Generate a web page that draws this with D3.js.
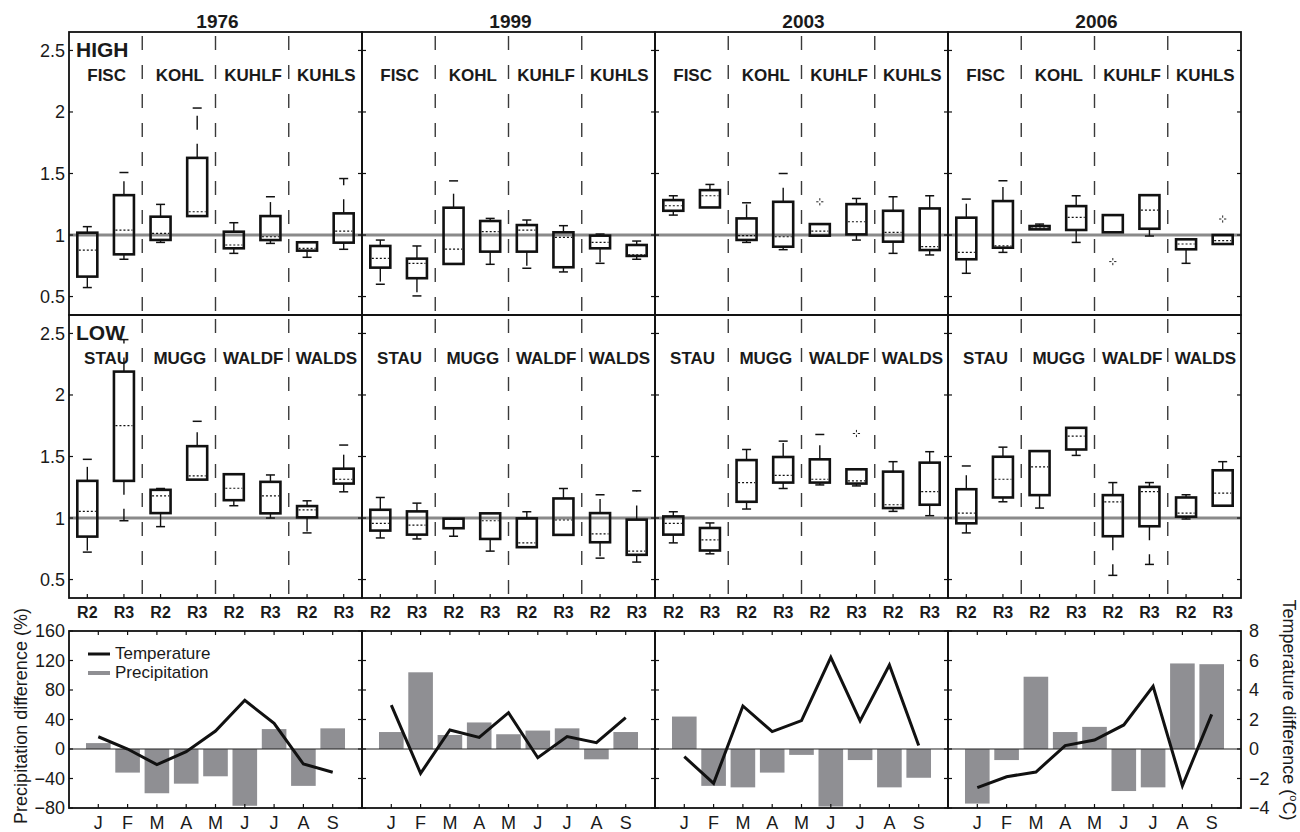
<!DOCTYPE html>
<html>
<head>
<meta charset="utf-8">
<script src="https://cdn.jsdelivr.net/npm/d3@7"></script>
<style>
  html, body { margin: 0; padding: 0; background: #fff; }
  svg { display: block; }
  text { font-family: "Liberation Sans", Arial, Helvetica, sans-serif; fill: #1a1a1a; }
</style>
</head>
<body>
<svg id="chart" width="1300" height="832"></svg>
<script>
// ---- categories ----
const years = ["1976", "1999", "2003", "2006"];
const highSites = ["FISC", "KOHL", "KUHLF", "KUHLS"];
const lowSites = ["STAU", "MUGG", "WALDF", "WALDS"];
const runs = ["R2", "R3"];
const months = ["J", "F", "M", "A", "M", "J", "J", "A", "S"];

// ---- tick labels ----
const ratioTicks = [0.5, 1, 1.5, 2, 2.5];
const precipTicks = [-80, -40, 0, 40, 80, 120, 160];
const tempTicks = [-4, -2, 0, 2, 4, 6, 8];

// ---- box statistics: [lower whisker, q1, median, q3, upper whisker], order site R2, site R3 ----
const high1976 = [
  [0.573, 0.662, 0.878, 1.019, 1.068], [0.803, 0.843, 1.040, 1.324, 1.508],
  [0.940, 0.960, 1.014, 1.149, 1.249], [1.154, 1.154, 1.189, 1.627, 2.032],
  [0.851, 0.892, 0.919, 1.027, 1.100], [0.932, 0.959, 0.986, 1.154, 1.311],
  [0.819, 0.873, 0.892, 0.941, 0.941], [0.884, 0.938, 1.032, 1.176, 1.459]
];
const high1999 = [
  [0.600, 0.735, 0.811, 0.911, 0.959], [0.505, 0.649, 0.770, 0.808, 0.911],
  [0.765, 0.765, 0.886, 1.222, 1.440], [0.762, 0.865, 1.027, 1.114, 1.135],
  [0.730, 0.865, 1.040, 1.081, 1.122], [0.700, 0.738, 0.981, 1.022, 1.076],
  [0.770, 0.892, 0.941, 0.995, 1.008], [0.803, 0.830, 0.838, 0.919, 0.951]
];
const high2003 = [
  [1.162, 1.197, 1.238, 1.284, 1.319], [1.224, 1.224, 1.319, 1.365, 1.411],
  [0.940, 0.960, 0.995, 1.135, 1.262], [0.881, 0.905, 0.986, 1.270, 1.500],
  [0.995, 0.995, 1.032, 1.089, 1.089], [0.959, 1.005, 1.108, 1.251, 1.297],
  [0.851, 0.946, 1.022, 1.197, 1.311], [0.838, 0.878, 0.905, 1.216, 1.319]
];
const high2006 = [
  [0.689, 0.803, 0.859, 1.141, 1.292], [0.859, 0.897, 0.911, 1.276, 1.441],
  [1.046, 1.046, 1.057, 1.073, 1.089], [0.940, 1.041, 1.143, 1.235, 1.319],
  [1.022, 1.022, 1.162, 1.162, 1.162], [0.992, 1.051, 1.203, 1.324, 1.324],
  [0.770, 0.884, 0.927, 0.965, 0.965], [0.927, 0.927, 0.954, 1.000, 1.000]
];
const low1976 = [
  [0.723, 0.849, 1.054, 1.302, 1.477], [0.978, 1.302, 1.751, 2.190, 2.450],
  [0.930, 1.040, 1.180, 1.229, 1.240], [1.312, 1.312, 1.342, 1.584, 1.786],
  [1.100, 1.145, 1.242, 1.356, 1.356], [1.000, 1.038, 1.180, 1.294, 1.350],
  [0.879, 1.005, 1.067, 1.097, 1.140], [1.213, 1.280, 1.315, 1.401, 1.593]
];
const low1999 = [
  [0.838, 0.898, 0.957, 1.067, 1.167], [0.830, 0.865, 0.943, 1.054, 1.121],
  [0.852, 0.917, 0.992, 0.995, 0.995], [0.731, 0.830, 0.978, 1.038, 1.038],
  [0.763, 0.763, 0.798, 0.997, 1.051], [0.863, 0.863, 0.984, 1.159, 1.240],
  [0.674, 0.803, 0.871, 1.040, 1.189], [0.642, 0.701, 0.731, 0.987, 1.221]
];
const low2003 = [
  [0.798, 0.865, 0.957, 1.013, 1.051], [0.709, 0.736, 0.822, 0.919, 0.960],
  [1.073, 1.132, 1.288, 1.471, 1.557], [1.240, 1.288, 1.347, 1.496, 1.625],
  [1.269, 1.288, 1.315, 1.477, 1.679], [1.261, 1.280, 1.302, 1.396, 1.396],
  [1.054, 1.081, 1.108, 1.377, 1.458], [1.019, 1.108, 1.215, 1.450, 1.539]
];
const low2006 = [
  [0.879, 0.957, 1.040, 1.234, 1.423], [1.132, 1.167, 1.315, 1.498, 1.576],
  [1.081, 1.186, 1.415, 1.544, 1.544], [1.509, 1.557, 1.665, 1.733, 1.733],
  [0.534, 0.852, 1.132, 1.186, 1.288], [0.623, 0.933, 1.215, 1.253, 1.288],
  [0.992, 1.011, 1.040, 1.167, 1.189], [1.100, 1.100, 1.202, 1.388, 1.458]
];
// outliers: [year index, box index, value]
const highOutliers = [[2, 4, 1.27], [3, 4, 0.784], [3, 7, 1.13]];
const lowOutliers = [[2, 5, 1.687]];

// ---- monthly differences ----
const precip1976 = [8, -32, -60, -47, -37, -77, 27, -50, 28];
const precip1999 = [23, 104, 19, 36, 20, 25, 28, -14, 23];
const precip2003 = [44, -50, -52, -32, -8, -78, -15, -52, -39];
const precip2006 = [-74, -15, 98, 23, 30, -57, -52, 116, 115];
const temp1976 = [0.83, 0.0, -1.06, -0.18, 1.22, 3.30, 1.74, -1.02, -1.58];
const temp1999 = [2.98, -1.65, 1.29, 0.79, 2.46, -0.59, 0.84, 0.43, 2.12];
const temp2003 = [-0.52, -2.33, 2.92, 1.18, 1.92, 6.21, 1.90, 5.69, 0.23];
const temp2006 = [-2.62, -1.88, -1.56, 0.23, 0.61, 1.63, 4.25, -2.49, 2.35];

const highRows = [high1976, high1999, high2003, high2006];
const lowRows = [low1976, low1999, low2003, low2006];
const precipRows = [precip1976, precip1999, precip2003, precip2006];
const tempRows = [temp1976, temp1999, temp2003, temp2006];

// ---- layout ----
const svg = d3.select("#chart");
const colLeft = 69, colW = 293;
const highTop = 32, highBot = 315, lowTop = 315, lowBot = 598;
const barTop = 631, barBot = 808;
const boxW = 20, capW = 9, tickLen = 4;
const barGray = "#8f8f93";

const yHigh = d3.scaleLinear().domain([0.35, 2.65]).range([highBot, highTop]);
const yLow = d3.scaleLinear().domain([0.35, 2.65]).range([lowBot, lowTop]);
const yPrecip = d3.scaleLinear().domain([-80, 160]).range([barBot, barTop]);
const yTemp = d3.scaleLinear().domain([-4, 8]).range([barBot, barTop]);

function drawBoxPanel(g, stats, outliers, x, y, top, bot, sites, showXTicks) {
  const x0 = x.range()[0], x1 = x.range()[1];
  // site separators
  [2.5, 4.5, 6.5].forEach(v => {
    g.append("line").attr("x1", x(v)).attr("x2", x(v)).attr("y1", top + 4).attr("y2", bot)
      .attr("stroke", "#3a3a3a").attr("stroke-width", 1.4).attr("stroke-dasharray", "14,15");
  });
  // reference ratio of one
  g.append("line").attr("x1", x0).attr("x2", x1).attr("y1", y(1)).attr("y2", y(1))
    .attr("stroke", "#8a8a8a").attr("stroke-width", 3);
  // boxes
  stats.forEach((s, i) => {
    const cx = x(i + 1);
    const [wl, q1, med, q3, wh] = s;
    const bg = g.append("g");
    if (wh > q3) {
      bg.append("line").attr("x1", cx).attr("x2", cx).attr("y1", y(q3)).attr("y2", y(wh))
        .attr("stroke", "#111").attr("stroke-width", 1.4).attr("stroke-dasharray", "14,14");
      bg.append("line").attr("x1", cx - capW / 2).attr("x2", cx + capW / 2).attr("y1", y(wh)).attr("y2", y(wh))
        .attr("stroke", "#111").attr("stroke-width", 1.5);
    }
    if (wl < q1) {
      bg.append("line").attr("x1", cx).attr("x2", cx).attr("y1", y(q1)).attr("y2", y(wl))
        .attr("stroke", "#111").attr("stroke-width", 1.4).attr("stroke-dasharray", "14,14");
      bg.append("line").attr("x1", cx - capW / 2).attr("x2", cx + capW / 2).attr("y1", y(wl)).attr("y2", y(wl))
        .attr("stroke", "#111").attr("stroke-width", 1.5);
    }
    bg.append("rect").attr("x", cx - boxW / 2).attr("y", y(q3)).attr("width", boxW)
      .attr("height", Math.max(1, y(q1) - y(q3)))
      .attr("fill", "none").attr("stroke", "#111").attr("stroke-width", 2.6);
    bg.append("line").attr("x1", cx - boxW / 2 + 1.5).attr("x2", cx + boxW / 2 - 1.5).attr("y1", y(med)).attr("y2", y(med))
      .attr("stroke", "#111").attr("stroke-width", 1.2).attr("stroke-dasharray", "2,2");
  });
  // outliers
  outliers.forEach(o => {
    const cx = x(o[0] + 1), cy = y(o[1]);
    const arms = [[1.3, 0, 3.6, 0], [-1.3, 0, -3.6, 0], [0, 1.3, 0, 3.6], [0, -1.3, 0, -3.6]];
    arms.forEach(a => g.append("line").attr("x1", cx + a[0]).attr("y1", cy + a[1])
      .attr("x2", cx + a[2]).attr("y2", cy + a[3]).attr("stroke", "#222").attr("stroke-width", 1));
  });
  // site names
  sites.forEach((s, k) => {
    g.append("text").attr("x", (x(2 * k + 1) + x(2 * k + 2)) / 2 + 1).attr("y", y(2.3))
      .attr("dy", "0.36em").attr("text-anchor", "middle")
      .attr("font-size", 17).attr("font-weight", "bold").text(s);
  });
  // y ticks on both sides, pointing inward
  ratioTicks.forEach(v => {
    g.append("line").attr("x1", x0).attr("x2", x0 + tickLen).attr("y1", y(v)).attr("y2", y(v)).attr("stroke", "#111").attr("stroke-width", 1.2);
    g.append("line").attr("x1", x1).attr("x2", x1 - tickLen).attr("y1", y(v)).attr("y2", y(v)).attr("stroke", "#111").attr("stroke-width", 1.2);
  });
  if (showXTicks) {
    d3.range(1, 9).forEach(v => {
      g.append("line").attr("x1", x(v)).attr("x2", x(v)).attr("y1", bot).attr("y2", bot - tickLen).attr("stroke", "#111").attr("stroke-width", 1.2);
    });
  }
  // frame
  g.append("rect").attr("x", x0).attr("y", top).attr("width", x1 - x0).attr("height", bot - top)
    .attr("fill", "none").attr("stroke", "#111").attr("stroke-width", 1.8);
}

years.forEach((yr, c) => {
  const left = colLeft + c * colW;
  const xBox = d3.scaleLinear().domain([0.5, 8.5]).range([left, left + colW]);
  const xMon = d3.scaleLinear().domain([0, 10]).range([left, left + colW]);
  const g = svg.append("g");

  // year title
  g.append("text").attr("x", left + colW / 2 + 2).attr("y", 28).attr("text-anchor", "middle")
    .attr("font-size", 19).attr("font-weight", "bold").text(yr);

  drawBoxPanel(g, highRows[c], highOutliers.filter(o => o[0] === c).map(o => [o[1], o[2]]),
    xBox, yHigh, highTop, highBot, highSites, false);
  drawBoxPanel(g, lowRows[c], lowOutliers.filter(o => o[0] === c).map(o => [o[1], o[2]]),
    xBox, yLow, lowTop, lowBot, lowSites, true);

  // run labels under the boxes
  d3.range(8).forEach(i => {
    g.append("text").attr("x", xBox(i + 1)).attr("y", 618).attr("text-anchor", "middle")
      .attr("font-size", 16).attr("font-weight", "bold").text(runs[i % 2]);
  });

  // monthly precipitation bars
  const bars = precipRows[c];
  g.selectAll(".bar" + c).data(bars).enter().append("rect")
    .attr("x", (d, i) => xMon(i + 1 - 0.42))
    .attr("width", xMon(0.84) - xMon(0))
    .attr("y", d => yPrecip(Math.max(0, d)))
    .attr("height", d => Math.abs(yPrecip(d) - yPrecip(0)))
    .attr("fill", barGray);
  g.append("line").attr("x1", left).attr("x2", left + colW).attr("y1", yPrecip(0)).attr("y2", yPrecip(0))
    .attr("stroke", "#222").attr("stroke-width", 1.1);

  // monthly temperature line
  const line = d3.line().x((d, i) => xMon(i + 1)).y(d => yTemp(d));
  g.append("path").datum(tempRows[c]).attr("d", line).attr("fill", "none")
    .attr("stroke", "#111").attr("stroke-width", 3).attr("stroke-linejoin", "miter");

  // ticks for the monthly panel
  precipTicks.forEach(v => {
    g.append("line").attr("x1", left).attr("x2", left + tickLen).attr("y1", yPrecip(v)).attr("y2", yPrecip(v)).attr("stroke", "#111").attr("stroke-width", 1.2);
    g.append("line").attr("x1", left + colW).attr("x2", left + colW - tickLen).attr("y1", yPrecip(v)).attr("y2", yPrecip(v)).attr("stroke", "#111").attr("stroke-width", 1.2);
  });
  months.forEach((m, i) => {
    g.append("line").attr("x1", xMon(i + 1)).attr("x2", xMon(i + 1)).attr("y1", barTop).attr("y2", barTop + tickLen).attr("stroke", "#111").attr("stroke-width", 1.2);
    g.append("line").attr("x1", xMon(i + 1)).attr("x2", xMon(i + 1)).attr("y1", barBot).attr("y2", barBot - tickLen).attr("stroke", "#111").attr("stroke-width", 1.2);
    g.append("text").attr("x", xMon(i + 1)).attr("y", 829).attr("text-anchor", "middle")
      .attr("font-size", 18).text(m);
  });
  g.append("rect").attr("x", left).attr("y", barTop).attr("width", colW).attr("height", barBot - barTop)
    .attr("fill", "none").attr("stroke", "#111").attr("stroke-width", 1.8);
});

// row labels
svg.append("text").attr("x", 76).attr("y", 57).attr("font-size", 21).attr("font-weight", "bold").text("HIGH");
svg.append("text").attr("x", 76).attr("y", 340).attr("font-size", 21).attr("font-weight", "bold").text("LOW");

// ratio axis labels
ratioTicks.forEach(v => {
  [yHigh, yLow].forEach(y => {
    svg.append("text").attr("x", 65).attr("y", y(v)).attr("dy", "0.36em").attr("text-anchor", "end")
      .attr("font-size", 18).text(v);
  });
});

// monthly panel axis labels
const fmt = v => (v < 0 ? "\u2212" + Math.abs(v) : String(v));
precipTicks.forEach(v => {
  svg.append("text").attr("x", 65).attr("y", yPrecip(v)).attr("dy", "0.36em").attr("text-anchor", "end")
    .attr("font-size", 18).text(fmt(v));
});
tempTicks.forEach(v => {
  svg.append("text").attr("x", 1249).attr("y", yTemp(v)).attr("dy", "0.36em").attr("text-anchor", "start")
    .attr("font-size", 18).text(fmt(v));
});
svg.append("text").attr("transform", "translate(27,716) rotate(-90)").attr("text-anchor", "middle")
  .attr("font-size", 18).text("Precipitation difference (%)");
const tLab = svg.append("text").attr("transform", "translate(1283,710) rotate(90)").attr("text-anchor", "middle")
  .attr("font-size", 18);
tLab.append("tspan").text("Temperature difference (");
tLab.append("tspan").attr("font-size", 11).attr("dy", -7).text("o");
tLab.append("tspan").attr("dy", 7).text("C)");

// legend
svg.append("line").attr("x1", 88).attr("x2", 110).attr("y1", 654).attr("y2", 654).attr("stroke", "#111").attr("stroke-width", 3);
svg.append("text").attr("x", 115).attr("y", 659).attr("font-size", 17).text("Temperature");
svg.append("line").attr("x1", 88).attr("x2", 110).attr("y1", 673).attr("y2", 673).attr("stroke", barGray).attr("stroke-width", 4);
svg.append("text").attr("x", 115).attr("y", 678).attr("font-size", 17).text("Precipitation");
</script>
</body>
</html>
